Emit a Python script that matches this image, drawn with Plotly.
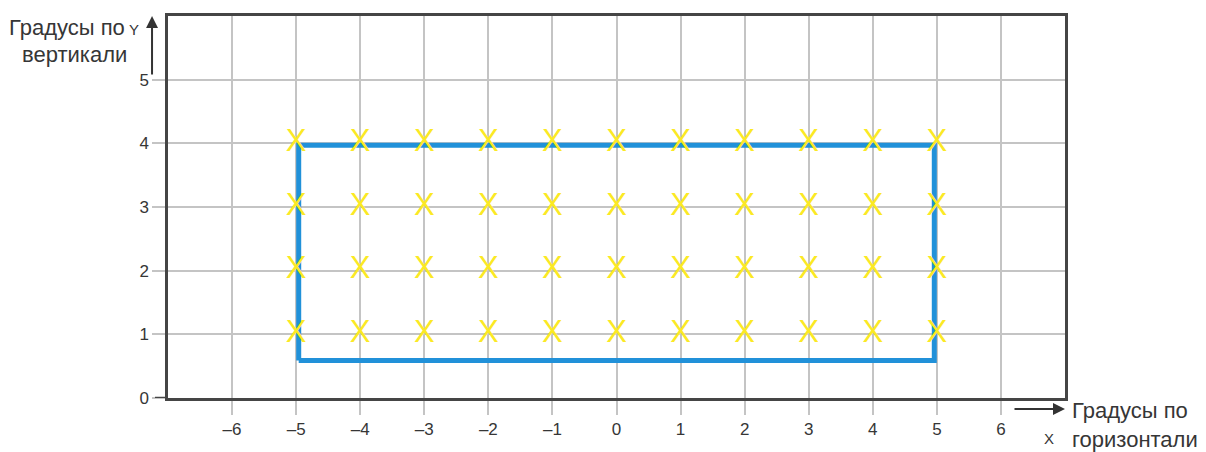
import plotly.graph_objects as go

# Frame of the region (degrees)
rect_x = [-4.96, 4.96, 4.96, -4.96, -4.96]
rect_y = [0.59, 0.59, 3.97, 3.97, 0.59]

# Sample points marked with a yellow X
point_cols = [-5, -4, -3, -2, -1, 0, 1, 2, 3, 4, 5]
point_rows = [1, 2, 3, 4]

# Tick labels
x_ticks = [-6, -5, -4, -3, -2, -1, 0, 1, 2, 3, 4, 5, 6]
x_tick_text = ["–6", "–5", "–4", "–3", "–2", "–1", "0", "1", "2", "3", "4", "5", "6"]
y_ticks = [0, 1, 2, 3, 4, 5]

FONT = "Liberation Sans Narrow, Arial Narrow, Liberation Sans, Arial"
TXT = "#363636"

px_all = [c for r in point_rows for c in point_cols]
py_all = [r for r in point_rows for c in point_cols]

fig = go.Figure()

fig.add_trace(go.Scatter(
    x=rect_x, y=rect_y, mode="lines",
    line=dict(color="#2191d9", width=5), hoverinfo="skip"
))

fig.add_trace(go.Scatter(
    x=px_all, y=py_all, mode="text", text=["X"] * len(px_all),
    textposition="middle center",
    textfont=dict(family=FONT, size=31, color="#fbe924"), hoverinfo="skip"
))

axis_common = dict(
    showgrid=True, gridcolor="#c4c4c4", gridwidth=1.5,
    zeroline=False, showline=True, linecolor="#454545", linewidth=2.5, mirror=True,
    ticks="outside", tickcolor="#c4c4c4", tickwidth=1.5,
    tickfont=dict(family=FONT, size=17, color=TXT),
)

fig.update_xaxes(range=[-7, 7], tickvals=x_ticks, ticktext=x_tick_text,
                 ticklen=14, **axis_common)
fig.update_yaxes(range=[0, 6], tickvals=y_ticks, ticklen=13, **axis_common)

# dark tick at y = 0
fig.add_shape(type="line", xref="paper", yref="y", x0=-0.0145, x1=0, y0=0, y1=0,
              line=dict(color="#454545", width=2.5))

annots = [
    # Y axis arrow
    dict(xref="paper", yref="paper", x=-0.0178, y=1.0, ax=0, ay=60, text="",
         showarrow=True, arrowhead=2, arrowsize=1.2, arrowwidth=2, arrowcolor="#333"),
    # X axis arrow
    dict(xref="paper", yref="paper", x=1.0, y=-0.029, ax=-52, ay=0, text="",
         showarrow=True, arrowhead=2, arrowsize=1.2, arrowwidth=2, arrowcolor="#333"),
    dict(xref="paper", yref="paper", x=-0.18, y=0.97, xanchor="left", yanchor="middle",
         text="Градусы по", showarrow=False, font=dict(family=FONT, size=22, color=TXT)),
    dict(xref="paper", yref="paper", x=-0.038, y=0.965, xanchor="center", yanchor="middle",
         text="Y", showarrow=False, font=dict(family=FONT, size=15, color=TXT)),
    dict(xref="paper", yref="paper", x=-0.165, y=0.9, xanchor="left", yanchor="middle",
         text="вертикали", showarrow=False, font=dict(family=FONT, size=22, color=TXT)),
    dict(xref="paper", yref="paper", x=1.006, y=-0.034, xanchor="left", yanchor="middle",
         text="Градусы по", showarrow=False, font=dict(family=FONT, size=22, color=TXT)),
    dict(xref="paper", yref="paper", x=1.006, y=-0.109, xanchor="left", yanchor="middle",
         text="горизонтали", showarrow=False, font=dict(family=FONT, size=22, color=TXT)),
    dict(xref="paper", yref="paper", x=0.982, y=-0.106, xanchor="center", yanchor="middle",
         text="X", showarrow=False, font=dict(family=FONT, size=15, color=TXT)),
]

# the page body adds an 8px offset, so the figure is shrunk by that amount
fig.update_layout(
    width=1198, height=444,
    margin=dict(l=160, r=141, t=5, b=54),
    plot_bgcolor="white", paper_bgcolor="white",
    showlegend=False, annotations=annots,
)

fig.write_html("out.html")
